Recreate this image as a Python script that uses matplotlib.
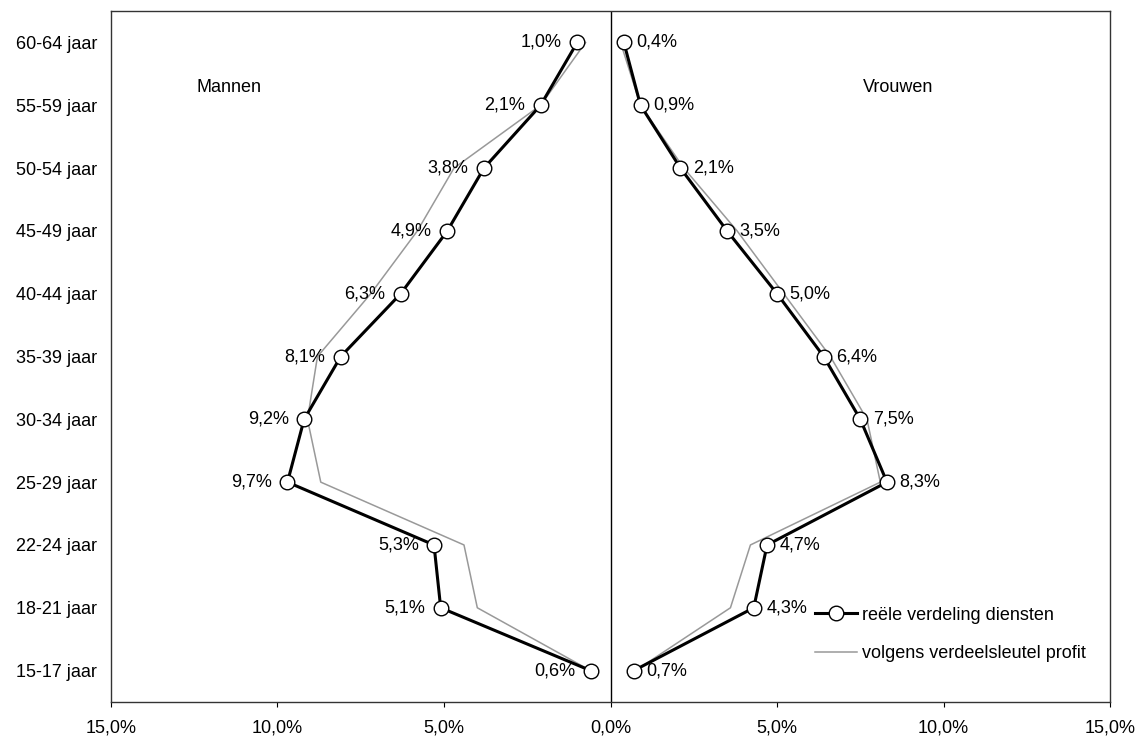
import matplotlib
matplotlib.use("Agg")
import matplotlib.pyplot as plt

# leeftijdsgroepen (van onder naar boven)
groepen = ["15-17 jaar", "18-21 jaar", "22-24 jaar", "25-29 jaar", "30-34 jaar",
           "35-39 jaar", "40-44 jaar", "45-49 jaar", "50-54 jaar", "55-59 jaar",
           "60-64 jaar"]

# reele verdeling diensten (%)
mannen_reeel = [0.6, 5.1, 5.3, 9.7, 9.2, 8.1, 6.3, 4.9, 3.8, 2.1, 1.0]
vrouwen_reeel = [0.7, 4.3, 4.7, 8.3, 7.5, 6.4, 5.0, 3.5, 2.1, 0.9, 0.4]

mannen_profit = [0.6, 4.0, 4.4, 8.7, 9.1, 8.8, 7.2, 5.8, 4.7, 2.1, 0.75]
vrouwen_profit = [0.75, 3.6, 4.2, 8.1, 7.7, 6.6, 5.2, 3.8, 2.2, 0.9, 0.3]

xticks = [-15, -10, -5, 0, 5, 10, 15]

plt.rcParams['font.family'] = ['Liberation Sans', 'DejaVu Sans']
plt.rcParams['font.size'] = 13

fig = plt.figure(figsize=(11.38, 7.37), dpi=100)
ax = fig.add_axes([0.0975, 0.0475, 0.878, 0.9375])

y = list(range(len(groepen)))
m_r = [-v for v in mannen_reeel]
m_p = [-v for v in mannen_profit]

grijs = "#999999"
ax.plot(m_p, y, color=grijs, lw=1.1, zorder=2)
ax.plot(vrouwen_profit, y, color=grijs, lw=1.1, zorder=2,
        label="volgens verdeelsleutel profit")

mk = dict(color="black", lw=2.2, marker="o", markersize=10.5,
          markerfacecolor="white", markeredgecolor="black", markeredgewidth=1.0,
          zorder=3)
ax.plot(m_r, y, **mk)
ax.plot(vrouwen_reeel, y, label="reële verdeling diensten", **mk)

for xi, yi, v in zip(m_r, y, mannen_reeel):
    ax.annotate(f"{v:.1f}".replace(".", ",") + "%", (xi, yi), xytext=(-11, 0),
                textcoords="offset points", ha="right", va="center")
for xi, yi, v in zip(vrouwen_reeel, y, vrouwen_reeel):
    ax.annotate(f"{v:.1f}".replace(".", ",") + "%", (xi, yi), xytext=(9, 0),
                textcoords="offset points", ha="left", va="center")

ax.axvline(0, color="black", lw=1.0, zorder=1)

ax.text(-11.46, 9.28, "Mannen", ha="center", va="center")
ax.text(8.64, 9.28, "Vrouwen", ha="center", va="center")

ax.set_xlim(-15, 15)
ax.set_ylim(-0.5, 10.5)
ax.set_xticks(xticks)
ax.set_xticklabels([f"{abs(t):.1f}".replace(".", ",") + "%" for t in xticks])
ax.set_yticks(y)
ax.set_yticklabels(groepen)
ax.tick_params(axis="y", length=0, pad=10)
ax.tick_params(axis="x", direction="out", length=3.5, pad=9)
for s in ax.spines.values():
    s.set_linewidth(1.0)
    s.set_color("#333333")

h, l = ax.get_legend_handles_labels()
ax.legend(h[::-1], l[::-1], loc="upper left", bbox_to_anchor=(0.705, 0.138),
          frameon=False, borderpad=0, borderaxespad=0, handlelength=2.3,
          handletextpad=0.3, labelspacing=1.2, fontsize=13)

fig.savefig("out.png", dpi=100)
